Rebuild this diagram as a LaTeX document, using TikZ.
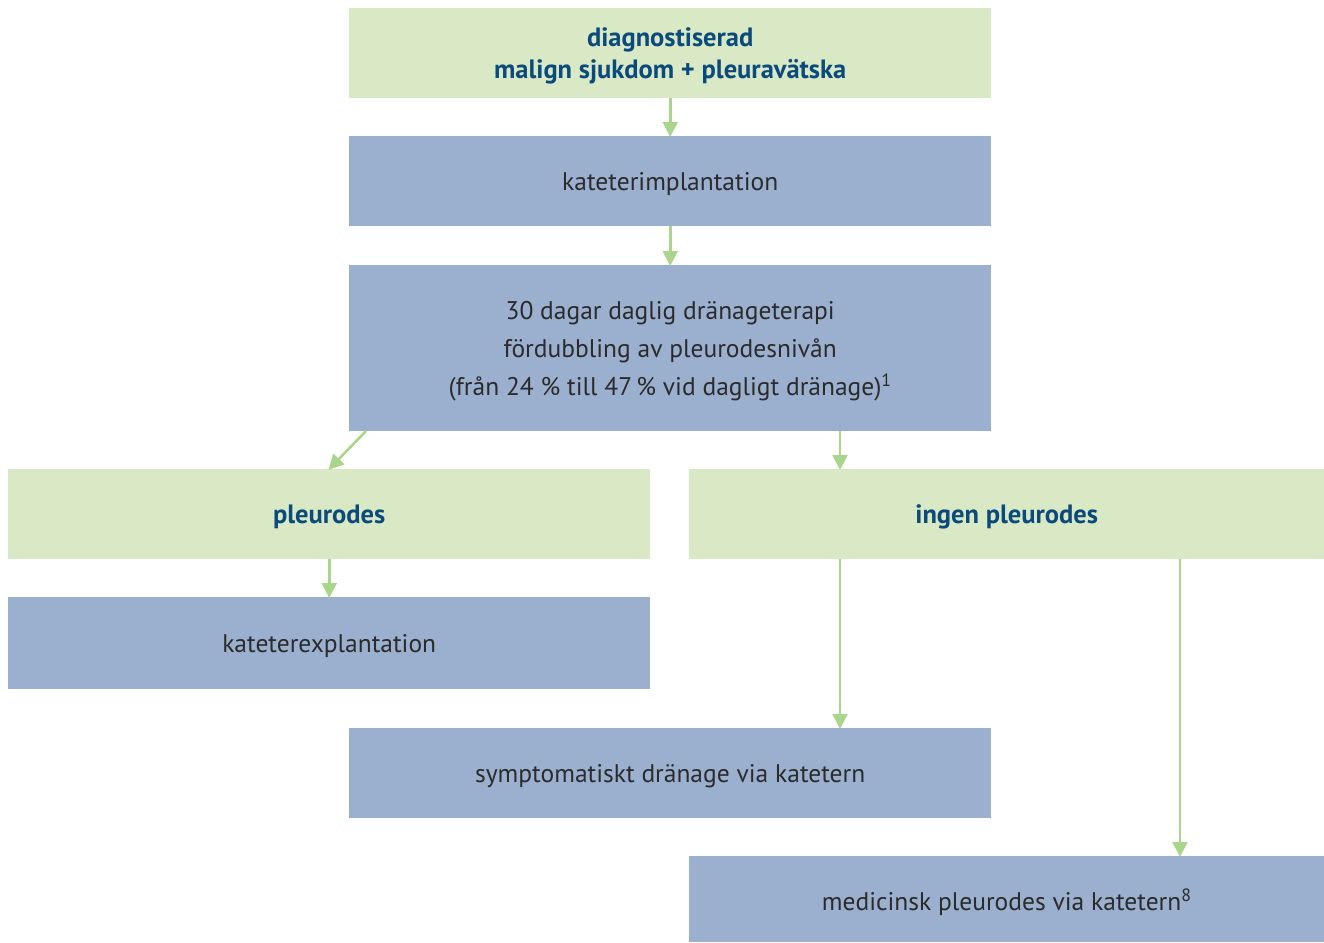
\documentclass[tikz,border=0pt]{standalone}
\usepackage{fontspec}
\setmainfont{PT Sans}
\usetikzlibrary{arrows.meta}
\definecolor{gfill}{HTML}{D9E9C5}
\definecolor{bfill}{HTML}{9BAFCF}
\definecolor{dblue}{HTML}{0B4A7C}
\definecolor{tgray}{HTML}{2B2B2B}
\definecolor{arrg}{HTML}{A9D68C}
\tikzset{
  box/.style={anchor=north west, inner sep=0pt, align=center, text depth=0pt, font=\fontsize{25.5}{38}\selectfont, text=tgray},
  gbox/.style={box, fill=gfill, text=dblue, font=\fontsize{26.5}{32}\selectfont\bfseries},
  bbox/.style={box, fill=bfill},
  arr/.style={draw=arrg, line width=2.6pt, -{Triangle[width=15pt,length=15pt]}, shorten >=-1pt}
}
\begin{document}
\begin{tikzpicture}[x=1pt,y=-1pt]
\useasboundingbox (0,0) rectangle (1324,942);
\node[gbox, minimum width=642pt, minimum height=90pt] (dx) at (349,8) {diagnostiserad\\malign sjukdom + pleuravätska};
\node[bbox, minimum width=642pt, minimum height=90pt] (ki) at (349,136) {kateterimplantation};
\node[bbox, minimum width=642pt, minimum height=166pt] (dr) at (349,265) {30 dagar daglig dränageterapi\\fördubbling av pleurodesnivån\\(från 24~\% till 47\,\% vid dagligt dränage)\textsuperscript{1}};
\node[gbox, minimum width=642pt, minimum height=90pt] (pl) at (8,469) {pleurodes};
\node[gbox, minimum width=635pt, minimum height=90pt] (ip) at (689,469) {ingen pleurodes};
\node[bbox, minimum width=642pt, minimum height=92pt] (ke) at (8,597) {kateterexplantation};
\node[bbox, minimum width=642pt, minimum height=90pt] (sy) at (349,728) {symptomatiskt dränage via katetern};
\node[bbox, minimum width=635pt, minimum height=86pt] (me) at (689,856) {medicinsk pleurodes via katetern\textsuperscript{8}};
\coordinate (d1) at (366,431);
\coordinate (d2) at (840,431);
\coordinate (d3) at (840,469);
\coordinate (s1) at (840,559);
\coordinate (s2) at (840,728);
\coordinate (m1) at (1180,559);
\coordinate (m2) at (1180,856);
\draw[arr] (dx.south) -- (ki.north);
\draw[arr] (ki.south) -- (dr.north);
\draw[arr] (d1) -- (pl.north);
\draw[arr] (d2) -- (d3);
\draw[arr] (pl.south) -- (ke.north);
\draw[arr] (s1) -- (s2);
\draw[arr] (m1) -- (m2);
\end{tikzpicture}
\end{document}
